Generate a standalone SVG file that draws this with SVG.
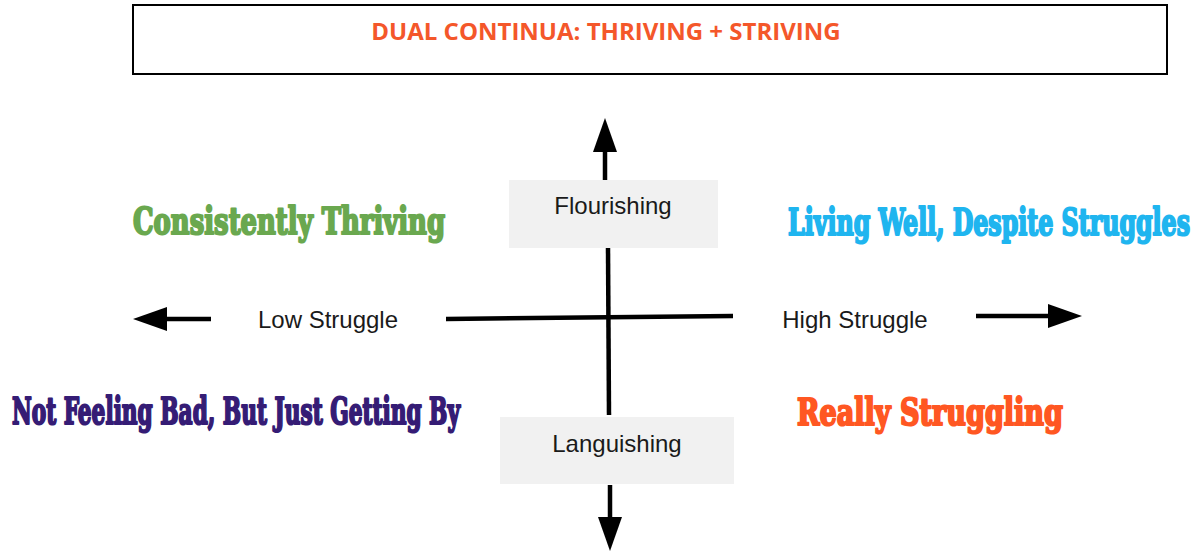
<svg xmlns="http://www.w3.org/2000/svg" width="1201" height="552" viewBox="0 0 1201 552">
  <style>
    .axis { stroke: #000; stroke-width: 4.5; fill: none; }
    .arrow { stroke: #000; stroke-width: 4.5; fill: none; marker-end: url(#head); }
    .label { font-family: "Liberation Sans", Arial, sans-serif; font-size: 24px; fill: #1a1a1a; text-anchor: middle; }
    .pole { fill: #f1f1f1; }
    .quad { font-family: "DejaVu Serif Condensed", "DejaVu Serif", serif; font-weight: bold; font-size: 38px; stroke-width: 2.2; stroke-linejoin: round; }
    .title { font-family: "Open Sans", "Liberation Sans", sans-serif; font-weight: bold; font-size: 24px; fill: #f4572a; text-anchor: middle; }
  </style>
  <defs>
    <marker id="head" viewBox="0 0 34 24" markerWidth="34" markerHeight="24" refX="0" refY="12" orient="auto" markerUnits="userSpaceOnUse">
      <path d="M0,0 L34,12 L0,24 Z" fill="#000"/>
    </marker>
  </defs>
  <rect width="1201" height="552" fill="#fff"/>

  <!-- heading -->
  <g id="title">
    <rect x="133" y="5" width="1034" height="69" fill="#fff" stroke="#000" stroke-width="2"/>
    <text class="title" x="606" y="40">DUAL CONTINUA: THRIVING + STRIVING</text>
  </g>

  <!-- axes and arrows -->
  <g id="connectors">
    <line class="axis" x1="608" y1="248" x2="609" y2="415"/>
    <line class="axis" x1="446" y1="319" x2="733" y2="316"/>
    <line class="arrow" x1="605" y1="180" x2="605" y2="152"/>
    <line class="arrow" x1="610" y1="485" x2="610" y2="517"/>
    <line class="arrow" x1="211" y1="319" x2="167" y2="319"/>
    <line class="arrow" x1="976" y1="316" x2="1048" y2="316"/>
  </g>

  <g id="flourishing">
    <rect class="pole" x="509" y="180" width="209" height="68"/>
    <text class="label" x="613" y="214">Flourishing</text>
  </g>

  <g id="languishing">
    <rect class="pole" x="500" y="417" width="234" height="67"/>
    <text class="label" x="617" y="452">Languishing</text>
  </g>

  <g id="low-struggle">
    <text class="label" x="328" y="328">Low Struggle</text>
  </g>

  <g id="high-struggle">
    <text class="label" x="855" y="328">High Struggle</text>
  </g>

  <!-- quadrant captions: heavy slab lettering squeezed to a condensed width -->
  <g id="consistently-thriving">
    <text class="quad" transform="translate(133,234) scale(0.6,1)" fill="#6aa84f" stroke="#6aa84f" textLength="520" lengthAdjust="spacingAndGlyphs">Consistently Thriving</text>
  </g>

  <g id="living-well">
    <text class="quad" transform="translate(788,235) scale(0.6,1)" fill="#1fb5ef" stroke="#1fb5ef" textLength="670" lengthAdjust="spacingAndGlyphs">Living Well, Despite Struggles</text>
  </g>

  <g id="getting-by">
    <text class="quad" transform="translate(12,424) scale(0.6,1)" fill="#351c75" stroke="#351c75" textLength="746.7" lengthAdjust="spacingAndGlyphs">Not Feeling Bad, But Just Getting By</text>
  </g>

  <g id="really-struggling">
    <text class="quad" transform="translate(797,425) scale(0.6,1)" fill="#ff5722" stroke="#ff5722" textLength="443.3" lengthAdjust="spacingAndGlyphs">Really Struggling</text>
  </g>
</svg>
